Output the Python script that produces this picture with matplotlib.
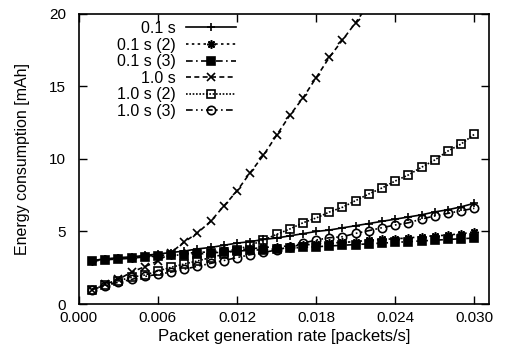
import matplotlib
matplotlib.use("Agg")
import matplotlib.pyplot as plt
import numpy as np

plt.rcParams['font.family'] = ['Liberation Sans', 'DejaVu Sans']
plt.rcParams['font.size'] = 11

rate = np.arange(1, 31) / 1000.0

e01 = [3.0, 3.1, 3.2, 3.25, 3.35, 3.45, 3.55, 3.65, 3.8, 3.9,
       4.05, 4.2, 4.3, 4.45, 4.55, 4.7, 4.85, 5.0, 5.1, 5.25,
       5.4, 5.55, 5.7, 5.85, 6.0, 6.15, 6.35, 6.5, 6.7, 6.95]
e01_2 = [3.0, 3.1, 3.15, 3.2, 3.3, 3.35, 3.4, 3.5, 3.55, 3.6,
         3.7, 3.75, 3.8, 3.9, 3.95, 4.0, 4.05, 4.15, 4.2, 4.25,
         4.3, 4.4, 4.45, 4.5, 4.55, 4.65, 4.7, 4.75, 4.85, 4.95]
e01_3 = [2.95, 3.05, 3.1, 3.15, 3.25, 3.3, 3.35, 3.4, 3.45, 3.5,
         3.6, 3.65, 3.7, 3.75, 3.8, 3.85, 3.9, 3.95, 4.0, 4.05,
         4.1, 4.15, 4.2, 4.25, 4.3, 4.35, 4.4, 4.45, 4.5, 4.55]
e10 = [1.0, 1.35, 1.7, 2.2, 2.57, 2.97, 3.55, 4.28, 4.9, 5.7,
       6.75, 7.8, 9.05, 10.25, 11.63, 13.0, 14.2, 15.6, 17.0, 18.2,
       19.4, 20.7]
e10_2 = [1.0, 1.3, 1.6, 1.85, 2.0, 2.28, 2.53, 2.76, 2.97, 3.2,
         3.43, 3.75, 4.05, 4.4, 4.8, 5.17, 5.6, 5.93, 6.34, 6.67,
         7.13, 7.59, 8.0, 8.48, 8.9, 9.43, 9.93, 10.55, 11.03, 11.7]
e10_3 = [1.0, 1.25, 1.5, 1.7, 1.9, 2.05, 2.2, 2.4, 2.6, 2.8,
         3.0, 3.2, 3.4, 3.56, 3.72, 3.95, 4.2, 4.41, 4.57, 4.64,
         4.87, 5.06, 5.26, 5.45, 5.6, 5.86, 6.07, 6.25, 6.43, 6.6]

fig = plt.figure(figsize=(5.05, 3.56), dpi=100)
ax = fig.add_axes([0.156, 0.146, 0.812, 0.815])

k = dict(color='black', lw=1.2, ms=6, mew=1.2)
ax.plot(rate, e01, '-', marker='+', label='0.1 s', **k)
ax.plot(rate, e01_2, linestyle=(0, (1.5, 2)), marker=(8, 2, 0), label='0.1 s (2)', **k)
ax.plot(rate, e01_3, linestyle=(0, (4, 2, 1, 2)), marker='s', label='0.1 s (3)', **k)
ax.plot(rate[:len(e10)], e10, linestyle=(0, (3, 2)), marker='x', label='1.0 s', **k)
ax.plot(rate, e10_2, linestyle=(0, (1, 1)), marker='s', mfc='none', label='1.0 s (2)', **k)
ax.plot(rate, e10_3, linestyle=(0, (4, 2, 1, 2, 1, 2)), marker='o', mfc='none', label='1.0 s (3)', **k)

ax.set_xlim(0, 0.0311)
ax.set_ylim(0, 20)
ax.set_xticks([0.0, 0.006, 0.012, 0.018, 0.024, 0.030])
ax.set_xticklabels(['0.000', '0.006', '0.012', '0.018', '0.024', '0.030'])
ax.set_yticks([0, 5, 10, 15, 20])
ax.tick_params(direction='in', top=True, right=True, length=6, width=1)
ax.tick_params(axis='y', pad=9)
ax.tick_params(axis='x', pad=5)
for s in ax.spines.values():
    s.set_linewidth(1.2)
ax.set_xlabel('Packet generation rate [packets/s]', fontsize=12, labelpad=3)
ax.set_ylabel('Energy consumption [mAh]', fontsize=11.5)
ax.yaxis.set_label_coords(-0.12, 0.5)

ax.legend(loc='upper right', markerfirst=False, frameon=False, handlelength=3.1,
          labelspacing=0.1, borderpad=0, borderaxespad=0,
          bbox_to_anchor=(236 / 505, 1 - 21 / 356), bbox_transform=fig.transFigure,
          handletextpad=0.65, fontsize=11.5)

fig.savefig('out.png', dpi=100)
